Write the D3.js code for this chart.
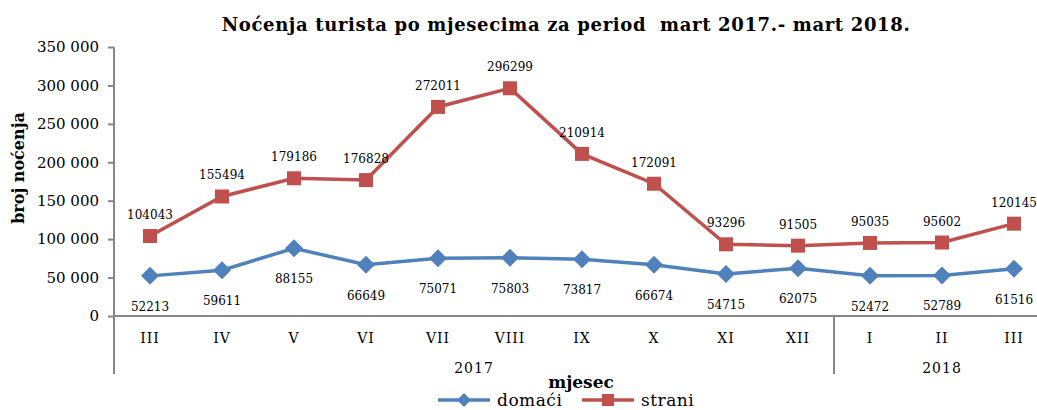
<!DOCTYPE html>
<html>
<head>
<meta charset="utf-8">
<script src="https://cdn.jsdelivr.net/npm/d3@7"></script>
<style>
  body { margin: 0; background: #fff; }
  svg text { font-family: "DejaVu Serif", "Liberation Serif", serif; }
</style>
</head>
<body>
<div id="chart"></div>
<script>
// data
const months = ["III", "IV", "V", "VI", "VII", "VIII", "IX", "X", "XI", "XII", "I", "II", "III"]
const years = [{label: "2017", from: 0, to: 10}, {label: "2018", from: 10, to: 13}]
const domaci = [52213, 59611, 88155, 66649, 75071, 75803, 73817, 66674, 54715, 62075, 52472, 52789, 61516]
const strani = [104043, 155494, 179186, 176828, 272011, 296299, 210914, 172091, 93296, 91505, 95035, 95602, 120145]
const yTicks = [0, 50000, 100000, 150000, 200000, 250000, 300000, 350000]
const yTickLabels = ["0", "50 000", "100 000", "150 000", "200 000", "250 000", "300 000", "350 000"]

const W = 1037, H = 410
const plot = {left: 114, right: 1050, top: 47, bottom: 316}
const axisColor = "#868686"
const blue = "#4F81BD", red = "#C0504D"

const svg = d3.select("#chart").append("svg")
  .attr("width", W)
  .attr("height", H)

const idx = d3.range(months.length)
const x = d3.scaleBand().domain(idx).range([plot.left, plot.right]).padding(0)
const cx = i => x(i) + x.bandwidth() / 2
const y = d3.scaleLinear().domain([0, 350000]).range([plot.bottom, plot.top])

// title (double space kept as in the original)
svg.append("text")
  .attr("x", 566).attr("y", 31)
  .attr("text-anchor", "middle")
  .style("font-size", "18px").style("font-weight", "bold")
  .style("letter-spacing", "0.65px").style("white-space", "pre")
  .text("Noćenja turista po mjesecima za period  mart 2017.- mart 2018.")

// y axis
const yAxis = svg.append("g")
  .attr("transform", "translate(" + plot.left + ",0)")
  .call(d3.axisLeft(y).tickValues(yTicks).tickSize(6).tickPadding(9)
    .tickFormat((d, i) => yTickLabels[i]))
yAxis.select(".domain").attr("stroke", axisColor).attr("stroke-width", 2)
  .attr("d", "M0," + plot.top + "V" + (plot.bottom + 58))
yAxis.selectAll(".tick line").attr("stroke", axisColor).attr("stroke-width", 2)
yAxis.selectAll(".tick text")
  .style("font-size", "15px").attr("fill", "#000")
  .style("font-family", "'DejaVu Serif', serif")

// x axis line
svg.append("line")
  .attr("x1", plot.left).attr("x2", plot.right)
  .attr("y1", y(0)).attr("y2", y(0))
  .attr("stroke", axisColor).attr("stroke-width", 2)

// year separators
years.forEach(function(yr) {
  if (yr.from > 0) {
    svg.append("line")
      .attr("x1", x(yr.from)).attr("x2", x(yr.from))
      .attr("y1", y(0)).attr("y2", y(0) + 58)
      .attr("stroke", axisColor).attr("stroke-width", 2)
  }
  const x0 = x(yr.from)
  const x1 = yr.to >= months.length ? plot.right : x(yr.to)
  svg.append("text")
    .attr("x", (x0 + x1) / 2).attr("y", 373)
    .attr("text-anchor", "middle")
    .style("font-size", "14px").style("letter-spacing", "1px")
    .text(yr.label)
})

// month labels
svg.selectAll(".month")
  .data(months)
  .enter()
  .append("text")
    .attr("class", "month")
    .attr("x", (d, i) => cx(i))
    .attr("y", 343)
    .attr("text-anchor", "middle")
    .style("font-size", "14px").style("letter-spacing", "1px")
    .text(d => d)

// axis titles
svg.append("text")
  .attr("transform", "translate(24,168) rotate(-90)")
  .attr("text-anchor", "middle")
  .style("font-size", "16px").style("font-weight", "bold")
  .text("broj noćenja")

svg.append("text")
  .attr("x", 581).attr("y", 388)
  .attr("text-anchor", "middle")
  .style("font-size", "17px").style("font-weight", "bold")
  .text("mjesec")

const line = d3.line().x((d, i) => cx(i)).y(d => y(d))

// strani series
svg.append("path")
  .datum(strani)
  .attr("d", line)
  .attr("fill", "none").attr("stroke", red).attr("stroke-width", 3.5)

svg.selectAll(".sq")
  .data(strani)
  .enter()
  .append("rect")
    .attr("class", "sq")
    .attr("x", (d, i) => cx(i) - 7)
    .attr("y", d => y(d) - 7)
    .attr("width", 14).attr("height", 14)
    .attr("fill", red)

svg.selectAll(".slab")
  .data(strani)
  .enter()
  .append("text")
    .attr("class", "slab")
    .attr("x", (d, i) => cx(i))
    .attr("y", d => y(d) - 17)
    .attr("text-anchor", "middle")
    .style("font-size", "12px")
    .text(d => d)

// domaci series
svg.append("path")
  .datum(domaci)
  .attr("d", line)
  .attr("fill", "none").attr("stroke", blue).attr("stroke-width", 3.5)

const diamond = "M0,-9L9,0L0,9L-9,0Z"
svg.selectAll(".dia")
  .data(domaci)
  .enter()
  .append("path")
    .attr("class", "dia")
    .attr("d", diamond)
    .attr("transform", (d, i) => "translate(" + cx(i) + "," + y(d) + ")")
    .attr("fill", blue)

svg.selectAll(".dlab")
  .data(domaci)
  .enter()
  .append("text")
    .attr("class", "dlab")
    .attr("x", (d, i) => cx(i))
    .attr("y", d => y(d) + 35)
    .attr("text-anchor", "middle")
    .style("font-size", "12px")
    .text(d => d)

// legend
const legend = [{name: "domaći", color: blue, x: 438, shape: "dia"},
                {name: "strani", color: red, x: 582, shape: "sq"}]
legend.forEach(function(l) {
  const g = svg.append("g").attr("transform", "translate(" + l.x + ",400)")
  g.append("line").attr("x1", 0).attr("x2", 52)
    .attr("stroke", l.color).attr("stroke-width", 3.5)
  if (l.shape == "dia") {
    g.append("path").attr("d", "M26,-7L33,0L26,7L19,0Z").attr("fill", l.color)
  } else {
    g.append("rect").attr("x", 20).attr("y", -6).attr("width", 12).attr("height", 12)
      .attr("fill", l.color)
  }
  g.append("text").attr("x", 59).attr("y", 6)
    .style("font-size", "17px").style("letter-spacing", "0.5px")
    .text(l.name)
})
</script>
</body>
</html>
